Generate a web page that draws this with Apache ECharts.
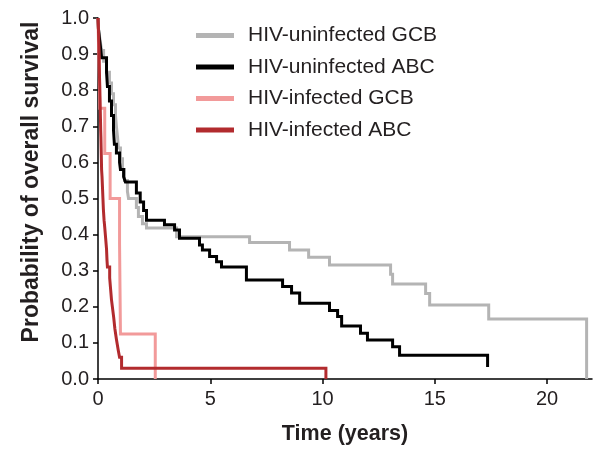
<!DOCTYPE html>
<html>
<head>
<meta charset="utf-8">
<script src="https://cdn.jsdelivr.net/npm/echarts@6/dist/echarts.min.js"></script>
<style>html,body{margin:0;padding:0;background:#fff;}#c{width:600px;height:450px;}</style>
</head>
<body>
<div id="c"></div>
<script>
// Kaplan-Meier step data: time (years) at which the curve drops, survival after the drop
var seriesNames = ['HIV-uninfected GCB', 'HIV-uninfected ABC', 'HIV-infected GCB', 'HIV-infected ABC'];

var uninfGCB_t = [0, 0.02, 0.09, 0.16, 0.25, 0.38, 0.51, 0.60, 0.69, 0.78, 0.82, 0.87, 0.91, 1.00, 1.09, 1.18, 1.31, 1.36, 1.71, 1.80, 1.98, 2.16, 3.50, 6.75, 8.53, 9.38, 10.31, 13.03, 13.12, 14.59, 14.77, 17.40, 21.76, 21.76];
var uninfGCB_s = [1.0, 0.97, 0.94, 0.91, 0.88, 0.85, 0.82, 0.79, 0.76, 0.73, 0.70, 0.67, 0.64, 0.61, 0.58, 0.55, 0.52, 0.50, 0.475, 0.45, 0.43, 0.418, 0.394, 0.378, 0.357, 0.337, 0.316, 0.29, 0.263, 0.237, 0.205, 0.166, 0.166, 0.0];

var uninfABC_t = [0, 0.02, 0.07, 0.11, 0.16, 0.38, 0.42, 0.51, 0.60, 0.69, 0.73, 0.82, 0.96, 1.00, 1.14, 1.22, 1.71, 1.88, 2.03, 2.16, 2.96, 3.41, 3.63, 4.52, 4.65, 4.97, 5.28, 5.50, 6.61, 8.22, 8.62, 8.98, 10.31, 10.67, 10.85, 11.69, 12.00, 13.12, 13.43, 17.35];
var uninfABC_s = [1.0, 0.97, 0.94, 0.92, 0.89, 0.85, 0.81, 0.77, 0.73, 0.69, 0.65, 0.626, 0.60, 0.58, 0.56, 0.546, 0.515, 0.49, 0.467, 0.44, 0.427, 0.413, 0.39, 0.371, 0.357, 0.339, 0.325, 0.31, 0.274, 0.256, 0.238, 0.21, 0.19, 0.173, 0.147, 0.127, 0.108, 0.089, 0.066, 0.033];

var infGCB_t = [0, 0.04, 0.08, 0.30, 0.54, 0.96, 0.98, 1.00, 2.55, 2.55];
var infGCB_s = [1.0, 0.875, 0.75, 0.625, 0.50, 0.375, 0.25, 0.125, 0.125, 0.0];

var infABC_t = [0, 0.02, 0.03, 0.04, 0.05, 0.06, 0.07, 0.08, 0.09, 0.10, 0.11, 0.12, 0.13, 0.14, 0.15, 0.16, 0.18, 0.20, 0.22, 0.24, 0.27, 0.30, 0.34, 0.38, 0.40, 0.42, 0.52, 0.56, 0.60, 0.66, 0.70, 0.75, 0.82, 0.90, 0.96, 1.05, 10.15, 10.15];
var infABC_s = [1.0, 0.97, 0.94, 0.92, 0.89, 0.86, 0.83, 0.81, 0.78, 0.75, 0.72, 0.69, 0.67, 0.64, 0.61, 0.58, 0.56, 0.53, 0.50, 0.47, 0.44, 0.42, 0.39, 0.36, 0.33, 0.31, 0.28, 0.25, 0.22, 0.19, 0.17, 0.14, 0.11, 0.08, 0.06, 0.03, 0.03, 0.0];

var xTicks = [0, 5, 10, 15, 20];
var yTicks = [0, 0.1, 0.2, 0.3, 0.4, 0.5, 0.6, 0.7, 0.8, 0.9, 1.0];
var colors = ['#b4b4b4', '#000000', '#f29a9a', '#b22b2e'];

function pairs(t, s) { return t.map(function (v, i) { return [v, s[i]]; }); }
var seriesData = [pairs(uninfGCB_t, uninfGCB_s), pairs(uninfABC_t, uninfABC_s), pairs(infGCB_t, infGCB_s), pairs(infABC_t, infABC_s)];

var font = 'Liberation Sans, Arial, sans-serif';
var chart = echarts.init(document.getElementById('c'), null, {renderer: 'canvas'});
chart.setOption({
  animation: false,
  backgroundColor: '#ffffff',
  color: colors,
  grid: {left: 98, right: 8, top: 18, bottom: 71, containLabel: false},
  legend: {
    orient: 'vertical', left: 191, top: 20,
    itemWidth: 38, itemHeight: 5, itemGap: 10.5,
    icon: 'rect',
    data: seriesNames.map(function (n, i) { return {name: n, itemStyle: {color: colors[i]}}; }),
    textStyle: {fontFamily: font, fontSize: 21, color: '#231f20', lineHeight: 21, padding: [0, 0, 0, 9]},
    selectedMode: false
  },
  xAxis: {
    type: 'value', min: 0, max: 22, interval: 5,
    name: 'Time (years)', nameLocation: 'middle', nameGap: 44,
    nameTextStyle: {fontFamily: font, fontSize: 21.5, fontWeight: 'bold', color: '#231f20'},
    axisLine: {show: true, lineStyle: {color: '#000', width: 1.5}},
    axisTick: {show: true, length: 5, lineStyle: {color: '#000', width: 1.5}, customValues: xTicks},
    axisLabel: {fontFamily: font, fontSize: 20, color: '#231f20', margin: 10, customValues: xTicks},
    splitLine: {show: false}
  },
  yAxis: {
    type: 'value', min: 0, max: 1, interval: 0.1,
    name: 'Probability of overall survival', nameLocation: 'middle', nameGap: 55, nameRotate: 90,
    nameTextStyle: {fontFamily: font, fontSize: 23, fontWeight: 'bold', color: '#231f20', padding: [0, 0, 0, 33]},
    axisLine: {show: true, lineStyle: {color: '#000', width: 1.5}},
    axisTick: {show: true, length: 5, lineStyle: {color: '#000', width: 1.5}},
    axisLabel: {fontFamily: font, fontSize: 20, color: '#231f20', margin: 9,
      formatter: function (v) { return v.toFixed(1); }},
    splitLine: {show: false}
  },
  series: seriesNames.map(function (n, i) {
    return {
      name: n, type: 'line', step: 'end', data: seriesData[i],
      symbol: 'none', showSymbol: false,
      lineStyle: {color: colors[i], width: 3, cap: 'butt', join: 'miter'},
      itemStyle: {color: colors[i]},
      z: 2 + i
    };
  })
});
</script>
</body>
</html>
